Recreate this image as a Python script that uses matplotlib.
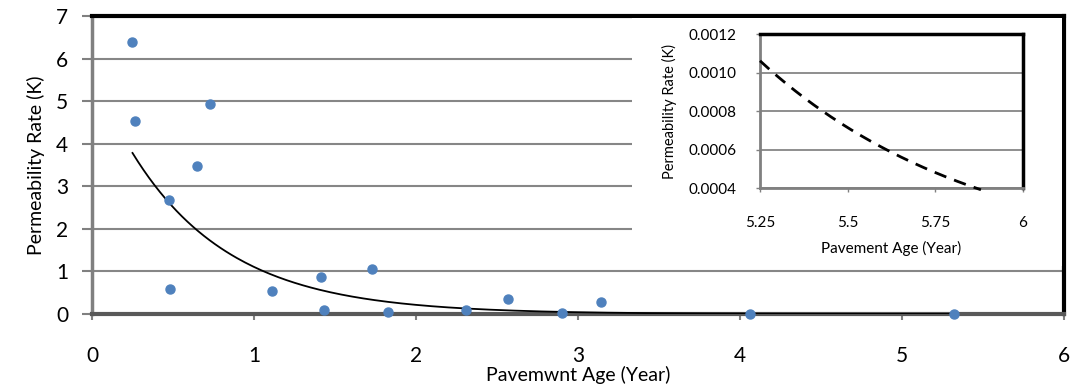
import numpy as np
import matplotlib
matplotlib.use("Agg")
import matplotlib.pyplot as plt

plt.rcParams['font.family'] = ['Lato', 'DejaVu Sans']

# ---- data ----
age = [0.247, 0.265, 0.73, 0.646, 0.477, 0.48, 1.11, 1.414, 1.43, 1.73,
       1.825, 2.307, 2.57, 2.90, 3.145, 4.06, 5.32]
perm = [6.40, 4.53, 4.93, 3.48, 2.68, 0.59, 0.54, 0.88, 0.09, 1.05,
        0.04, 0.09, 0.36, 0.016, 0.28, 0.008, 0.008]

# exponential trend  K = a * exp(-b * age)
trend_main = (5.70, 1.64)
trend_main_range = (0.25, 5.32)
trend_inset = (4.36, 1.585)
trend_inset_range = (5.25, 5.88)

main_xticks = [0, 1, 2, 3, 4, 5, 6]
main_yticks = [0, 1, 2, 3, 4, 5, 6, 7]
inset_xticks = [5.25, 5.5, 5.75, 6]
inset_xlabels = ['5.25', '5.5', '5.75', '6']
inset_yticks = [0.0004, 0.0006, 0.0008, 0.0010, 0.0012]
inset_ylabels = ['0.0004', '0.0006', '0.0008', '0.0010', '0.0012']

GRID = '#868686'
DOT = '#4F81BD'

fig = plt.figure(figsize=(10.74, 3.9), dpi=100)

# ---- main axes ----
ax = fig.add_axes([92/1074, 1-314/390, 972/1074, 298/390])
ax.set_xlim(0, 6)
ax.set_ylim(0, 7)
ax.set_yticks(main_yticks)
ax.set_xticks(main_xticks)
ax.grid(axis='y', color=GRID, linewidth=1.5, zorder=0)
ax.set_axisbelow(True)

xs = np.linspace(*trend_main_range, 300)
ax.plot(xs, trend_main[0]*np.exp(-trend_main[1]*xs), color='black', lw=1.3, zorder=3)
ax.plot(age, perm, 'o', color=DOT, markersize=6.5, zorder=4, clip_on=False)

ax.spines['top'].set_color('black'); ax.spines['top'].set_linewidth(3)
ax.spines['right'].set_color('black'); ax.spines['right'].set_linewidth(3)
ax.spines['left'].set_color('#808080'); ax.spines['left'].set_linewidth(2.5)
ax.spines['bottom'].set_color('#595959'); ax.spines['bottom'].set_linewidth(3)
ax.tick_params(axis='y', direction='out', length=7, width=1.5, color='#808080',
               labelsize=15, pad=10)
ax.tick_params(axis='x', direction='out', length=4, width=1.5, color='#808080',
               labelsize=15, pad=19)
ax.set_ylabel('Permeability Rate (K)', fontsize=14, labelpad=8)
ax.set_xlabel('Pavemwnt Age (Year)', fontsize=14, labelpad=0)

# white background box of the inset chart
bg = fig.add_axes([632/1074, 1-266/390, 430/1074, 248/390])
bg.set_facecolor('white')
bg.set_xticks([]); bg.set_yticks([])
for s in bg.spines.values():
    s.set_visible(False)
bg.set_zorder(5)

# ---- inset axes ----
ia = fig.add_axes([760/1074, 1-188/390, 263/1074, 154/390])
ia.set_zorder(6)
ia.set_xlim(5.25, 6)
ia.set_ylim(0.0004, 0.0012)
ia.set_xticks(inset_xticks)
ia.set_xticklabels(inset_xlabels)
ia.set_yticks(inset_yticks)
ia.set_yticklabels(inset_ylabels)
ia.grid(axis='y', color=GRID, linewidth=1.3)
ia.set_axisbelow(True)
xi = np.linspace(*trend_inset_range, 200)
ia.plot(xi, trend_inset[0]*np.exp(-trend_inset[1]*xi), color='black', lw=2,
        linestyle=(0, (4.5, 3)), zorder=3, clip_on=False)
ia.spines['top'].set_color('black'); ia.spines['top'].set_linewidth(2.5)
ia.spines['right'].set_color('black'); ia.spines['right'].set_linewidth(2.5)
ia.spines['left'].set_color('#808080'); ia.spines['left'].set_linewidth(2)
ia.spines['bottom'].set_color('#808080'); ia.spines['bottom'].set_linewidth(2)
ia.tick_params(axis='y', direction='out', length=3, width=1, color='#808080',
               labelsize=11, pad=14)
ia.tick_params(axis='x', direction='out', length=3, width=1, color='#808080',
               labelsize=11, pad=17)
ia.set_ylabel('Permeability Rate (K)', fontsize=10.5, labelpad=8)
ia.set_xlabel('Pavement Age (Year)', fontsize=11, labelpad=8)

fig.savefig('out.png', dpi=100)
